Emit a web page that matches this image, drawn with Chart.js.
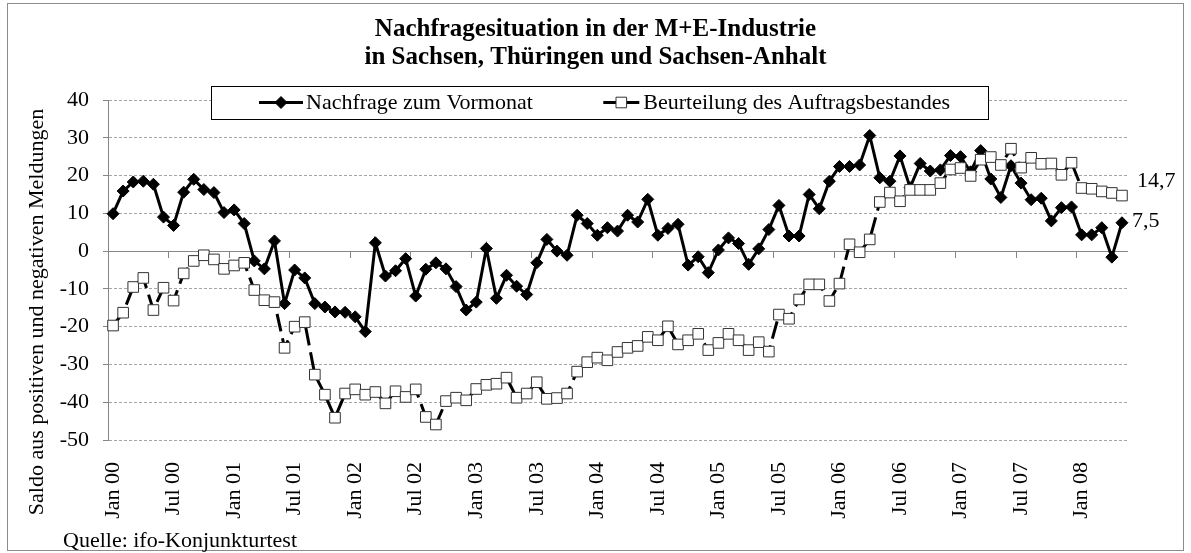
<!DOCTYPE html>
<html>
<head>
<meta charset="utf-8">
<title>Nachfragesituation in der M+E-Industrie</title>
<script src="https://cdn.jsdelivr.net/npm/chart.js@4.4.1/dist/chart.umd.min.js"></script>
<style>
    html, body { margin: 0; padding: 0; background: #fff; }
    #wrap { width: 1191px; height: 553px; }
</style>
</head>
<body>
<div id="wrap"><canvas id="chart" width="1191" height="553"></canvas></div>
<script>
// categories: Jan 2000 .. May 2008
const monthNames = ["Jan", "Feb", "Mrz", "Apr", "Mai", "Jun", "Jul", "Aug", "Sep", "Okt", "Nov", "Dez"];
const years = ["00", "01", "02", "03", "04", "05", "06", "07", "08"];
const shownMonths = ["Jan", "Jul"];

const categories = [];
years.forEach(y => monthNames.forEach(m => {
    if (categories.length < 101) categories.push(m + " " + y);
}));

// Nachfrage zum Vormonat (diamonds)
const nachfrage = [
    9.9, 15.9, 18.3, 18.5, 17.7, 9.0, 6.8, 15.6, 19.0, 16.3, 15.5, 10.2,
    10.9, 7.3, -2.6, -4.7, 2.7, -13.9, -5.0, -7.1, -13.9, -14.8, -16.1, -16.2,
    -17.4, -21.3, 2.2, -6.6, -5.2, -2.0, -11.9, -4.8, -3.1, -4.7, -9.4, -15.6,
    -13.5, 0.7, -12.5, -6.4, -9.3, -11.5, -3.1, 3.1, 0.0, -1.1, 9.5, 7.3,
    4.2, 6.2, 5.3, 9.5, 7.7, 13.7, 4.2, 6.0, 7.1, -3.7, -1.5, -5.7,
    0.3, 3.5, 2.0, -3.5, 0.6, 5.7, 12.1, 4.0, 4.0, 15.0, 11.2, 18.5,
    22.4, 22.4, 22.8, 30.6, 19.4, 18.5, 25.2, 16.8, 23.2, 21.2, 21.5, 25.3,
    25.0, 21.0, 26.6, 19.1, 14.2, 22.6, 18.0, 13.6, 14.0, 8.0, 11.5, 11.7,
    4.3, 4.3, 6.2, -1.6, 7.5
];

// Beurteilung des Auftragsbestandes (squares)
const auftragsbestand = [
    -19.7, -16.3, -9.5, -7.1, -15.6, -9.7, -13.1, -5.9, -2.6, -1.1, -2.2, -4.7,
    -3.8, -3.1, -10.3, -13.0, -13.5, -25.6, -20.0, -18.8, -32.7, -38.0, -44.1, -37.7,
    -36.6, -38.0, -37.3, -40.3, -37.1, -38.6, -36.6, -43.9, -45.9, -39.7, -38.8, -39.5,
    -36.5, -35.4, -35.1, -33.5, -38.8, -37.7, -34.7, -39.1, -38.9, -37.7, -31.9, -29.4,
    -28.2, -28.9, -26.7, -25.6, -25.1, -22.7, -23.6, -19.9, -24.7, -23.6, -21.9, -26.2,
    -24.3, -21.9, -23.6, -26.2, -24.1, -26.6, -16.8, -17.9, -12.8, -8.8, -8.8, -13.2,
    -8.6, 1.8, -0.3, 3.1, 13.0, 15.5, 13.2, 16.2, 16.2, 16.2, 18.0, 21.6,
    22.0, 19.9, 24.2, 24.9, 22.8, 27.1, 22.1, 24.7, 23.1, 23.2, 20.2, 23.4,
    16.7, 16.5, 15.8, 15.4, 14.7
];

const seriesNames = ["Nachfrage zum Vormonat", "Beurteilung des Auftragsbestandes"];
const endLabels = ["7,5", "14,7"];
const titleLines = ["Nachfragesituation in der M+E-Industrie", "in Sachsen, Thüringen und Sachsen-Anhalt"];
const yTitle = "Saldo aus positiven und negativen Meldungen";
const sourceText = "Quelle: ifo-Konjunkturtest";

const FONT = "'Liberation Serif', 'Times New Roman', serif";
const AXIS_GREY = "#868686";

Chart.defaults.font.family = FONT;
Chart.defaults.color = "#000";

// frame, legend box, axis title and source line
const decorations = {
    id: "decorations",
    beforeDraw(chart) {
        const ctx = chart.ctx;
        ctx.save();
        ctx.fillStyle = "#fff";
        ctx.fillRect(0, 0, chart.width, chart.height);
        ctx.strokeStyle = "#8c8c8c";
        ctx.lineWidth = 1;
        ctx.strokeRect(7.5, 3.5, chart.width - 15, chart.height - 6);
        ctx.restore();
    },
    afterDraw(chart) {
        const ctx = chart.ctx;
        ctx.save();

        // y axis title
        ctx.font = "22px " + FONT;
        ctx.fillStyle = "#000";
        ctx.textAlign = "center";
        ctx.textBaseline = "alphabetic";
        ctx.translate(43, 312);
        ctx.rotate(-Math.PI / 2);
        ctx.fillText(yTitle, 0, 0);
        ctx.setTransform(1, 0, 0, 1, 0, 0);

        // source
        ctx.textAlign = "left";
        ctx.fillText(sourceText, 63, 547);

        // legend
        const left = 211, right = 988, top = 86, bottom = 119;
        const mid = (top + bottom) / 2;
        ctx.fillStyle = "#fff";
        ctx.fillRect(left, top, right - left, bottom - top);
        ctx.strokeStyle = "#000";
        ctx.lineWidth = 1;
        ctx.strokeRect(left + 0.5, top + 0.5, right - left, bottom - top);

        ctx.textBaseline = "middle";
        ctx.fillStyle = "#000";
        ctx.lineWidth = 3;
        ctx.beginPath();
        ctx.moveTo(259, mid);
        ctx.lineTo(303, mid);
        ctx.stroke();
        ctx.lineWidth = 1;
        Chart.helpers.drawPoint(ctx, { pointStyle: "rectRot", radius: 6, borderWidth: 1, rotation: 0 }, 281, mid);
        ctx.fillText(seriesNames[0], 306, mid + 1);

        const w2 = ctx.measureText(seriesNames[1]).width;
        const x2 = 950 - w2;
        ctx.lineWidth = 3;
        ctx.beginPath();
        ctx.moveTo(x2 - 40, mid);
        ctx.lineTo(x2 - 4, mid);
        ctx.stroke();
        ctx.lineWidth = 1;
        ctx.fillStyle = "#fff";
        ctx.strokeStyle = "#333";
        Chart.helpers.drawPoint(ctx, { pointStyle: "rect", radius: 7.5, borderWidth: 1, rotation: 0 }, x2 - 22, mid);
        ctx.fillStyle = "#000";
        ctx.fillText(seriesNames[1], x2, mid + 1);

        ctx.restore();
    }
};

// value labels at the last point of each series
const lastValueLabels = {
    id: "lastValueLabels",
    afterDatasetsDraw(chart) {
        const ctx = chart.ctx;
        const offsets = [{ dx: 10, dy: -2 }, { dx: 15, dy: -14 }];
        ctx.save();
        ctx.font = "22px " + FONT;
        ctx.fillStyle = "#000";
        ctx.textAlign = "left";
        ctx.textBaseline = "middle";
        chart.data.datasets.forEach((ds, i) => {
            const meta = chart.getDatasetMeta(i);
            const pt = meta.data[meta.data.length - 1];
            ctx.fillText(endLabels[i], pt.x + offsets[i].dx, pt.y + offsets[i].dy);
        });
        ctx.restore();
    }
};

new Chart(document.getElementById("chart"), {
    type: "line",
    data: {
        labels: categories,
        datasets: [
            {
                label: seriesNames[0],
                data: nachfrage,
                borderColor: "#000",
                borderWidth: 3,
                pointStyle: "rectRot",
                pointRadius: 6,
                pointBackgroundColor: "#000",
                pointBorderColor: "#000",
                pointBorderWidth: 1,
                tension: 0,
                order: 2
            },
            {
                label: seriesNames[1],
                data: auftragsbestand,
                borderColor: "#000",
                borderWidth: 3,
                borderDash: [18, 7],
                pointStyle: "rect",
                pointRadius: 7.5,
                pointBackgroundColor: "#fff",
                pointBorderColor: "#333",
                pointBorderWidth: 1,
                tension: 0,
                order: 1
            }
        ]
    },
    options: {
        responsive: false,
        animation: false,
        layout: { padding: 0 },
        plugins: {
            legend: { display: false },
            tooltip: { enabled: false },
            title: {
                display: true,
                fullSize: true,
                text: titleLines,
                color: "#000",
                font: { family: FONT, size: 25, weight: "bold", lineHeight: 1.1 },
                padding: { top: 15.8, bottom: 29.2 }
            }
        },
        scales: {
            x: {
                type: "category",
                offset: true,
                grid: { display: false, drawTicks: false },
                border: { display: false },
                ticks: {
                    autoSkip: false,
                    maxRotation: 90,
                    minRotation: 90,
                    padding: 22,
                    color: "#000",
                    font: { family: FONT, size: 22 },
                    callback(value) {
                        const label = this.getLabelForValue(value);
                        return shownMonths.includes(label.slice(0, 3)) ? label : "";
                    }
                },
                afterFit(scale) { scale.height = 113; }
            },
            x2: {
                type: "category",
                position: { y: 0 },
                offset: true,
                grid: {
                    display: true,
                    offset: true,
                    drawOnChartArea: false,
                    drawTicks: true,
                    tickLength: 6,
                    tickColor: c => (c.index % 6 === 0 ? AXIS_GREY : "rgba(0,0,0,0)")
                },
                border: { display: true, color: AXIS_GREY, width: 1 },
                ticks: { display: false, autoSkip: false }
            },
            y: {
                min: -50,
                max: 40,
                ticks: {
                    stepSize: 10,
                    padding: 14,
                    color: "#000",
                    font: { family: FONT, size: 22 }
                },
                grid: {
                    color: "#a6a6a6",
                    lineWidth: 1,
                    tickLength: 5,
                    tickColor: AXIS_GREY,
                    tickBorderDash: []
                },
                border: { display: true, color: AXIS_GREY, width: 1, dash: [3, 2] },
                afterFit(scale) { scale.width = 108; }
            },
            // empty right-hand axis: keeps room for the end labels
            yRight: {
                position: "right",
                display: true,
                grid: { display: false, drawTicks: false },
                border: { display: false },
                ticks: { display: false },
                afterFit(scale) { scale.width = 64; }
            }
        }
    },
    plugins: [decorations, lastValueLabels]
});
</script>
</body>
</html>
